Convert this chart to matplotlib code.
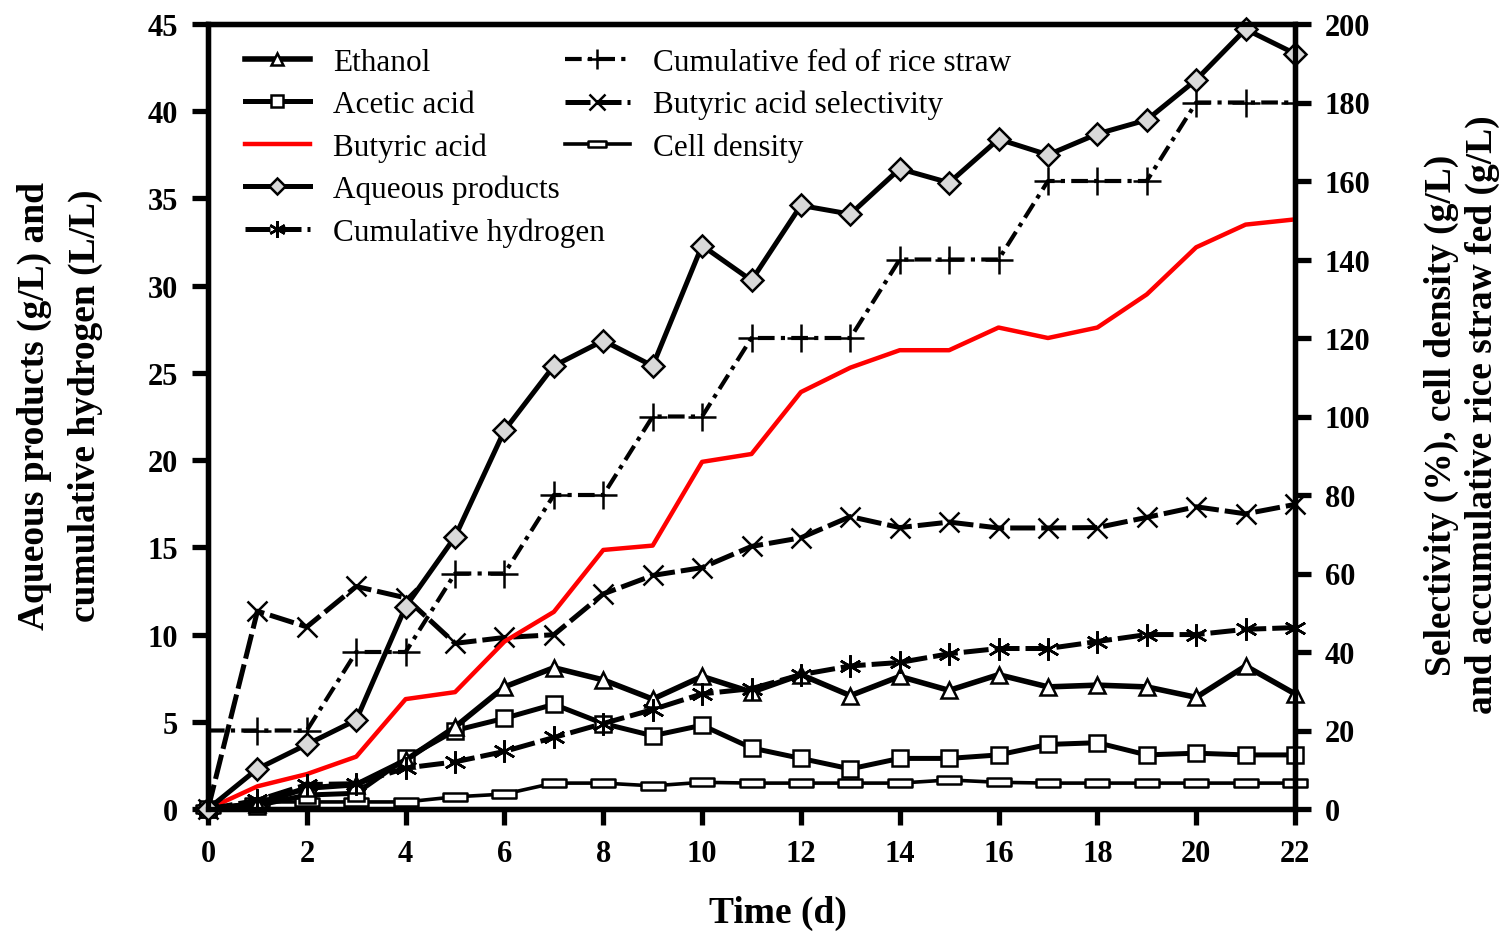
import matplotlib
matplotlib.use("Agg")
import matplotlib.pyplot as plt
from matplotlib.path import Path

plt.rcParams['font.family'] = ['Liberation Serif', 'DejaVu Serif']

days = list(range(0, 23))
ethanol = [0, 0.3, 1.2, 1.4, 2.8, 4.7, 7.0, 8.1, 7.4, 6.3, 7.6, 6.7, 7.7, 6.5, 7.6, 6.8, 7.7, 7.0, 7.1, 7.0, 6.4, 8.2, 6.6]
acetic = [0, 0.2, 0.8, 0.9, 2.9, 4.5, 5.2, 6.0, 4.9, 4.2, 4.8, 3.5, 2.9, 2.3, 2.9, 2.9, 3.1, 3.7, 3.8, 3.1, 3.2, 3.1, 3.1]
butyric = [0, 1.3, 2.0, 3.0, 6.3, 6.7, 9.6, 11.3, 14.85, 15.1, 19.9, 20.35, 23.9, 25.3, 26.3, 26.3, 27.6, 27.0, 27.6, 29.5, 32.2, 33.5, 33.8]
aqueous = [0, 2.3, 3.7, 5.1, 11.6, 15.6, 21.7, 25.4, 26.85, 25.4, 32.3, 30.3, 34.6, 34.1, 36.7, 35.9, 38.4, 37.5, 38.7, 39.5, 41.8, 44.7, 43.3]
hydrogen = [0, 0.5, 1.4, 1.45, 2.35, 2.7, 3.3, 4.1, 4.9, 5.7, 6.6, 6.9, 7.7, 8.2, 8.4, 8.9, 9.2, 9.2, 9.6, 10.0, 10.0, 10.3, 10.4]
fed = [20, 20, 20, 40, 40, 60, 60, 80, 80, 100, 100, 120, 120, 120, 140, 140, 140, 160, 160, 160, 180, 180, 180]
selectivity = [0, 50.4, 46.4, 56.7, 53.8, 42.2, 43.7, 44.4, 54.8, 59.5, 61.5, 66.9, 69.1, 74.5, 71.7, 73.1, 71.6, 71.6, 71.7, 74.3, 77.0, 75.2, 77.6]
cell_density = [0, 1.8, 1.8, 1.8, 1.8, 3.1, 3.8, 6.6, 6.6, 5.9, 6.8, 6.6, 6.6, 6.6, 6.6, 7.4, 6.8, 6.6, 6.6, 6.6, 6.6, 6.6, 6.6]

xticks = list(range(0, 23, 2))
left_ticks = list(range(0, 46, 5))
right_ticks = list(range(0, 201, 20))

W, H = 1507, 937
fig = plt.figure(figsize=(W / 100, H / 100), dpi=100)
ax = fig.add_axes([208 / W, 1 - 810 / H, (1295 - 208) / W, (810 - 25) / H])
ax2 = ax.twinx()

rect_marker = Path([(-1, -0.35), (1, -0.35), (1, 0.35), (-1, 0.35), (-1, -0.35)],
                   [Path.MOVETO, Path.LINETO, Path.LINETO, Path.LINETO, Path.CLOSEPOLY])

common = dict(clip_on=False, markeredgecolor='black', markeredgewidth=1.8)

h_cell, = ax2.plot(days, cell_density, color='black', lw=2.6, marker=rect_marker, markersize=17,
                   markerfacecolor='white', label='Cell density', **common)
h_sel, = ax2.plot(days, selectivity, color='black', lw=3.6, dashes=(5, 1.2), marker='x', markersize=15,
                  markerfacecolor='none', label='Butyric acid selectivity', **common)
h_fed, = ax2.plot(days, fed, color='black', lw=3.0, dashes=(4, 1.5, 1, 1.5), marker='+', markersize=20,
                  markevery=list(range(1, 23)), label='Cumulative fed of rice straw', **common)

h_but, = ax.plot(days, butyric, color='#ff0000', lw=3.2, label='Butyric acid', clip_on=False)
h_ace, = ax.plot(days, acetic, color='black', lw=3.6, marker='s', markersize=12,
                 markerfacecolor='white', label='Acetic acid', **common)
h_eth, = ax.plot(days, ethanol, color='black', lw=4.0, marker='^', markersize=12,
                 markerfacecolor='white', label='Ethanol', **common)
h_h2, = ax.plot(days, hydrogen, color='black', lw=3.6, dashes=(5, 1.2), marker=(6, 2, 0), markersize=16,
                label='Cumulative hydrogen', **common)
h_aq, = ax.plot(days, aqueous, color='black', lw=3.6, marker='D', markersize=11,
                markerfacecolor='#d9d9d9', label='Aqueous products', **common)

ax.set_zorder(ax2.get_zorder() + 1)
ax.patch.set_visible(False)

ax.set_xlim(0, 22)
ax.set_ylim(0, 45)
ax2.set_ylim(0, 200)
ax.set_xticks(xticks)
ax.set_yticks(left_ticks)
ax2.set_yticks(right_ticks)

for a in (ax, ax2):
    for s in a.spines.values():
        s.set_linewidth(3.8)
    a.tick_params(direction='out', length=11.5, width=3.8, labelsize=22, pad=10)
    for lbl in a.get_xticklabels() + a.get_yticklabels():
        lbl.set_fontweight('bold')

fig.text(778 / W, 1 - 913 / H, 'Time (d)', fontsize=27, fontweight='bold', ha='center', va='center')
fig.text(60 / W, 1 - 406 / H, 'Aqueous products (g/L) and\ncumulative hydrogen (L/L)', fontsize=27,
         fontweight='bold', rotation=90, ha='center', va='center', linespacing=1.6)
fig.text(1462 / W, 1 - 415 / H, 'Selectivity (%), cell density (g/L)\nand accumulative rice straw fed (g/L)',
         fontsize=27, fontweight='bold', rotation=90, ha='center', va='center', linespacing=1.2)

leg_kw = dict(loc='upper left', frameon=False, fontsize=22.5, handlelength=2.08, handletextpad=0.74,
              labelspacing=0.42, markerscale=0.75, borderpad=0, borderaxespad=0)
h1 = [h_eth, h_ace, h_but, h_aq, h_h2]
h2 = [h_fed, h_sel, h_cell]
leg1 = ax.legend(h1, [h.get_label() for h in h1], bbox_to_anchor=(0.034, 0.9696), **leg_kw)
ax.add_artist(leg1)
ax.legend(h2, [h.get_label() for h in h2], bbox_to_anchor=(0.3284, 0.9696), **leg_kw)

fig.savefig('out.png', dpi=100)
